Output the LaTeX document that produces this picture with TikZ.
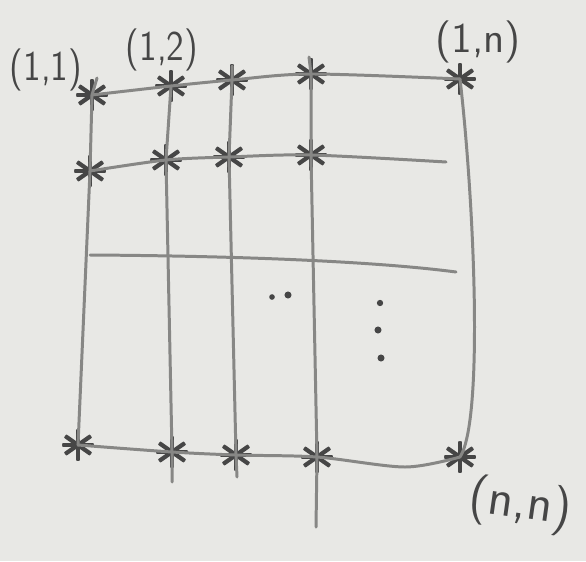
\documentclass[tikz,border=0pt]{standalone}
\usepackage{tikz}
\definecolor{paper}{RGB}{232,232,229}
\definecolor{pencil}{RGB}{135,135,133}
\definecolor{lead}{RGB}{70,70,70}
\tikzset{
gridmark/.style={circle,inner sep=0pt,minimum size=9pt,
  path picture={
    \foreach \ang in {0,35,90,145}
      \draw[lead,line width=1.2pt,line cap=round]
        ([shift={(\ang:4.2pt)}]path picture bounding box.center)--
        ([shift={(\ang+180:4.2pt)}]path picture bounding box.center);}},
gridline/.style={pencil,line width=0.85pt,line cap=round},
cornerlabel/.style={font=\large\sffamily,text=lead,inner sep=1pt},
dotmark/.style={lead}
}

\begin{document}
\begin{tikzpicture}[x=0.01cm,y=-0.01cm]
\fill[paper] (0,0) rectangle (586,561);
\useasboundingbox (0,0) rectangle (586,561);
% first row
\node[gridmark] (a11) at (92,95) {};
\node[gridmark] (a12) at (171,86) {};
\node[gridmark] (a13) at (232,80) {};
\node[gridmark] (a14) at (311,74) {};
\node[gridmark] (a1n) at (460,79) {};
% second row
\node[gridmark] (a21) at (90,171) {};
\node[gridmark] (a22) at (166,160) {};
\node[gridmark] (a23) at (229,157) {};
\node[gridmark] (a24) at (311,155) {};
% last row
\node[gridmark] (an1) at (78,445) {};
\node[gridmark] (an2) at (172,452) {};
\node[gridmark] (an3) at (236,455) {};
\node[gridmark] (an4) at (317,457) {};
\node[gridmark] (ann) at (460,457) {};
% loose ends
\coordinate (top1) at (97,78);
\coordinate (top3) at (232,66);
\coordinate (top4) at (309,57);
\coordinate (end2) at (446,162);
\coordinate (rule3a) at (90,255);
\coordinate (rule3b) at (456,272);
\coordinate (sag) at (405,467);
\coordinate (foot2) at (172,482);
\coordinate (foot3) at (237,477);
\coordinate (foot4) at (316,527);
% labels
\node[cornerlabel,xscale=0.85] (l11) at (46,70) {(1,1)};
\node[cornerlabel,xscale=0.85] (l12) at (162,50) {(1,2)};
\node[cornerlabel] (l1n) at (478,42) {(1,n)};
\node[cornerlabel,font=\Large\sffamily,rotate=-8] (lnn) at (520,505) {(n,n)};
% rows
\draw[gridline] plot[smooth,tension=0.5] coordinates
  {(a11.center) (a12.center) (a13.center) (a14.center) (a1n.center)};
\draw[gridline] plot[smooth,tension=0.5] coordinates
  {(a21.center) (a22.center) (a23.center) (a24.center) (end2)};
\draw[gridline] (rule3a) .. controls (250,256) and (380,262) .. (rule3b);
\draw[gridline] plot[smooth,tension=0.5] coordinates
  {(an1.center) (an2.center) (an3.center) (an4.center) (sag) (ann.center)};
% columns
\draw[gridline] (top1)--(a11.center)--(a21.center)--(an1.center);
\draw[gridline] (a12.center)--(a22.center)--(an2.center)--(foot2);
\draw[gridline] (top3)--(a13.center)--(a23.center)--(an3.center)--(foot3);
\draw[gridline] (top4)--(a14.center)--(a24.center)--(an4.center)--(foot4);
\draw[gridline] (a1n.center) .. controls (474,200) and (484,420) .. (ann.center);
% dots
\fill[dotmark] (272,297) circle (0.8pt);
\fill[dotmark] (288,295) circle (1pt);
\fill[dotmark] (380,303) circle (0.9pt);
\fill[dotmark] (378,330) circle (1pt);
\fill[dotmark] (381,358) circle (1pt);
\end{tikzpicture}
\end{document}
